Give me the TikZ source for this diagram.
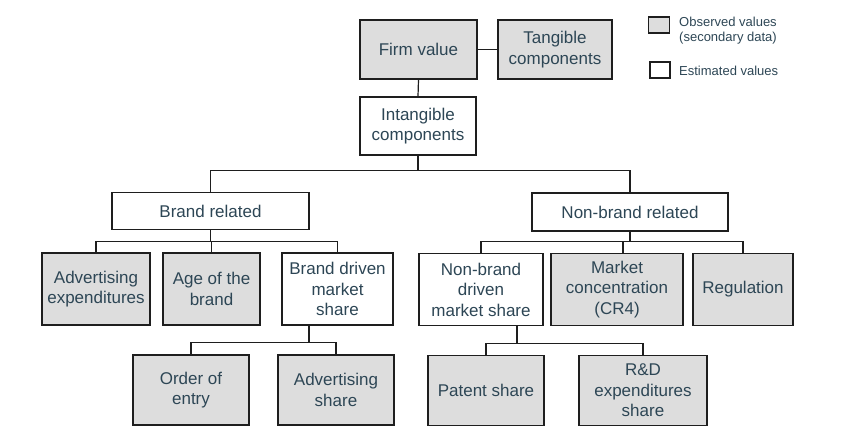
\documentclass[tikz,border=0pt]{standalone}
\usepackage{fontspec}
\setmainfont{Liberation Sans}
\definecolor{txt}{RGB}{45,70,85}
\definecolor{obsfill}{RGB}{221,221,221}
\definecolor{edge}{RGB}{30,30,30}
\begin{document}
\begin{tikzpicture}[x=1pt,y=-1pt,
  box/.style={draw=edge,line width=1.2pt,align=center,text=txt,inner sep=0pt,
    font=\fontsize{17}{20.5}\selectfont},
  obs/.style={box,fill=obsfill},
  est/.style={box,fill=white},
  conn/.style={draw=edge,line width=1.2pt},
  legtxt/.style={anchor=west,align=left,text=txt,inner sep=0pt,font=\fontsize{13}{15}\selectfont}]
\useasboundingbox (0,0) rectangle (851,434);
% top
\node[obs,minimum width=117pt,minimum height=59pt] (firm) at (418.5,49.5) {Firm value};
\node[obs,minimum width=114pt,minimum height=59pt] (tang) at (555,49.5) {Tangible\\components};
\node[est,minimum width=116pt,minimum height=58pt] (intang) at (418,126) {Intangible\\components};
% second level
\node[est,minimum width=197pt,minimum height=37pt] (brand) at (210.5,211) {Brand related};
\node[est,minimum width=196pt,minimum height=38pt] (nonbrand) at (630,212) {Non-brand related};
% third level
\node[obs,minimum width=108pt,minimum height=72pt] (adexp) at (96,289) {Advertising\\expenditures};
\node[obs,minimum width=97pt,minimum height=72pt] (age) at (211.5,289) {Age of the\\brand};
\node[est,minimum width=111pt,minimum height=72pt] (bdms) at (337.5,289) {Brand driven\\market\\share};
\node[est,minimum width=124pt,minimum height=72pt] (nbdms) at (481,289.5) {Non-brand\\driven\\market share};
\node[obs,minimum width=132pt,minimum height=72pt] (mconc) at (617,289.5) {Market\\concentration\\(CR4)};
\node[obs,minimum width=100pt,minimum height=72pt] (reg) at (743,289.5) {Regulation};
% fourth level
\node[obs,minimum width=116pt,minimum height=70pt] (order) at (191,390) {Order of\\entry};
\node[obs,minimum width=116pt,minimum height=70pt] (adshare) at (336,390) {Advertising\\share};
\node[obs,minimum width=116pt,minimum height=70pt] (patent) at (486,390.5) {Patent share};
\node[obs,minimum width=128pt,minimum height=70pt] (rd) at (643,390.5) {R\&D\\expenditures\\share};
% legend
\node[draw=edge,line width=1.2pt,fill=obsfill,minimum width=21pt,minimum height=16pt,inner sep=0pt] (legobs) at (659,25) {};
\node[draw=edge,line width=1.2pt,fill=white,minimum width=20pt,minimum height=16pt,inner sep=0pt] (legest) at (660,70) {};
\node[legtxt] (legobstxt) at (679,30.5) {Observed values\\(secondary data)};
\node[legtxt] (legesttxt) at (679,71) {Estimated values};
% connectors
\draw[conn] (firm.east) -- (tang.west);
\draw[conn] (firm.south) -- (intang.north);
\draw[conn] (intang.south) -- ++(0,15) -| (brand.north);
\draw[conn] (intang.south) -- ++(0,15) -| (nonbrand.north);
\draw[conn] (brand.south) -- ++(0,11.5) -| (adexp.north);
\draw[conn] (brand.south) -- ++(0,11.5) -| (age.north);
\draw[conn] (brand.south) -- ++(0,11.5) -| (bdms.north);
\draw[conn] (nonbrand.south) -- ++(0,10) -| (nbdms.north);
\draw[conn] (nonbrand.south) -- ++(0,10) -| ([xshift=6pt]mconc.north);
\draw[conn] (nonbrand.south) -- ++(0,10) -| (reg.north);
\draw[conn] ([xshift=-28.5pt]bdms.south) -- ++(0,17) -| (order.north);
\draw[conn] ([xshift=-28.5pt]bdms.south) -- ++(0,17) -| (adshare.north);
\draw[conn] ([xshift=36pt]nbdms.south) -- ++(0,17) -| (patent.north);
\draw[conn] ([xshift=36pt]nbdms.south) -- ++(0,17) -| (rd.north);
\end{tikzpicture}
\end{document}
